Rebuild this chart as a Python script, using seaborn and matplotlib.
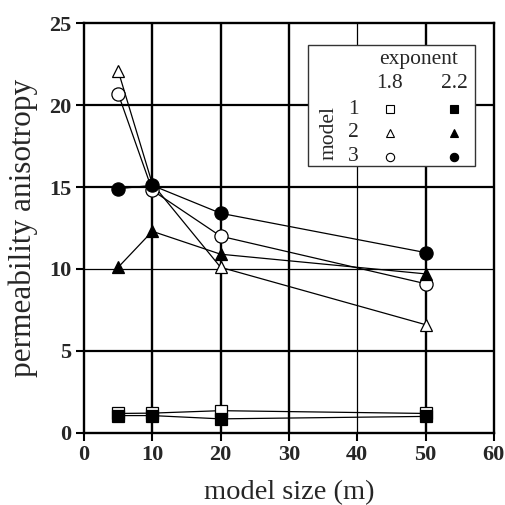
import matplotlib
matplotlib.use("Agg")
import matplotlib.pyplot as plt
from matplotlib.patches import Rectangle
import seaborn as sns
import pandas as pd

sns.set_theme(style="white")
plt.rcParams["font.family"] = ["Liberation Serif", "DejaVu Serif"]

# model size (m)
sizes = [5, 10, 20, 50]

# permeability anisotropy, per model and exponent
m1_e18 = [1.18, 1.2, 1.35, 1.18]
m1_e22 = [1.05, 1.05, 0.85, 1.0]
m2_e18 = [22.1, 15.2, 10.1, 6.6]
m2_e22 = [10.1, 12.3, 10.9, 9.7]
m3_e18 = [20.7, 14.8, 12.0, 9.1]
m3_e22 = [14.9, 15.1, 13.4, 11.0]

models = ["1", "2", "3"]
exponents = ["1.8", "2.2"]
model_markers = {"1": "s", "2": "^", "3": "o"}
marker_sizes = {"s": 8.5, "^": 8.5, "o": 9.5}

series = [
    ("1", "1.8", m1_e18), ("2", "1.8", m2_e18), ("3", "1.8", m3_e18),
    ("1", "2.2", m1_e22), ("2", "2.2", m2_e22), ("3", "2.2", m3_e22),
]

x_ticks = [0, 10, 20, 30, 40, 50, 60]
y_ticks = [0, 5, 10, 15, 20, 25]

fig = plt.figure(figsize=(5.06, 5.05), dpi=100)
ax = fig.add_axes([0.166, 0.143, 0.81, 0.811])

# grid
thick_x = {10, 20, 30, 50}
for xv in x_ticks[1:-1]:
    ax.axvline(xv, color="black", lw=1.7 if xv in thick_x else 0.9, zorder=1)
for yv in y_ticks[1:-1]:
    ax.axhline(yv, color="black", lw=0.9 if yv == 10 else 1.6, zorder=1)

for z, (m, e, vals) in enumerate(series):
    df = pd.DataFrame({"size": sizes, "aniso": vals})
    mk = model_markers[m]
    face = "white" if e == "1.8" else "black"
    sns.lineplot(data=df, x="size", y="aniso", ax=ax, color="black",
                 linewidth=0.9, marker=mk, markersize=marker_sizes[mk],
                 markerfacecolor=face, markeredgecolor="black",
                 markeredgewidth=0.9, zorder=3 + z, legend=False)

ax.set_xlim(0, 60)
ax.set_ylim(0, 25)
ax.set_xticks(x_ticks)
ax.set_yticks(y_ticks)
ax.set_xlabel("model size (m)", fontsize=20.5, labelpad=11)
ax.set_ylabel("permeability anisotropy", fontsize=22.5, labelpad=8)
for lab in ax.get_xticklabels() + ax.get_yticklabels():
    lab.set_fontweight("bold")
    lab.set_fontsize(16)
ax.tick_params(axis="both", direction="out", length=6, width=1.5,
               color="black", bottom=True, left=True, pad=3)
for sp in ax.spines.values():
    sp.set_color("black")
    sp.set_linewidth(1.7)

# key table
box = Rectangle((32.8, 16.3), 24.4, 7.35, facecolor="white",
                edgecolor="#333333", lw=1.0, zorder=20)
ax.add_patch(box)
ax.text(49.0, 22.8, "exponent", ha="center", va="center", fontsize=15.5, zorder=21)
col_x = {"1.8": 44.8, "2.2": 54.2}
for e in exponents:
    ax.text(col_x[e], 21.3, e, ha="center", va="center", fontsize=15.5, zorder=21)
row_y = {"1": 19.75, "2": 18.3, "3": 16.85}
for m in models:
    ax.text(39.4, row_y[m], m, ha="center", va="center", fontsize=15.5, zorder=21)
    mk = model_markers[m]
    for e in exponents:
        face = "white" if e == "1.8" else "black"
        ax.plot([col_x[e]], [row_y[m]], marker=mk, markersize=6,
                markerfacecolor=face, markeredgecolor="black",
                markeredgewidth=0.8, linestyle="none", zorder=22)
ax.text(35.8, 18.3, "model", rotation=90, ha="center", va="center",
        fontsize=15.5, zorder=21)

fig.savefig("out.png", dpi=100)
